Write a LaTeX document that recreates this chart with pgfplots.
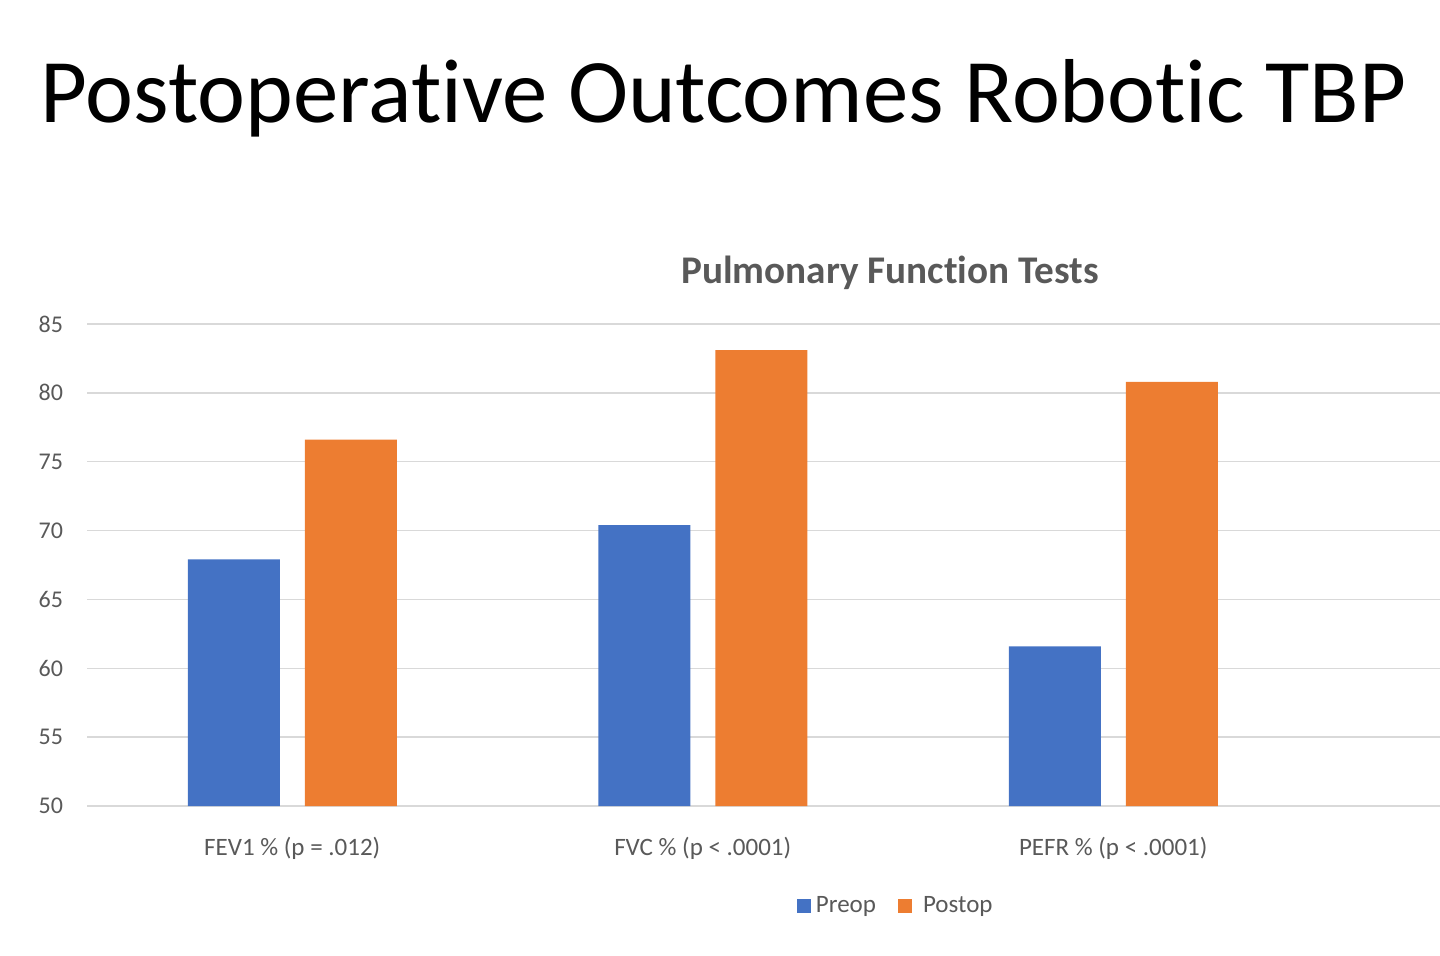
\documentclass[border=0pt]{standalone}
\usepackage{fontspec}
\setmainfont{Carlito}[Ligatures=NoCommon]
\usepackage{pgfplots}
\pgfplotsset{compat=1.18}
\definecolor{cblue}{HTML}{4472C4}
\definecolor{corange}{HTML}{ED7D31}
\definecolor{ctext}{HTML}{595959}
\definecolor{cgrid}{HTML}{D9D9D9}
\begin{document}
\begin{tikzpicture}
\path[use as bounding box] (0,0) rectangle (720pt,477.5pt);
\node[anchor=base, inner sep=0pt, font=\fontsize{45.4}{50}\selectfont] at (361.75pt,416pt) {Postoperative Outcomes Robotic TBP};
\node[anchor=base, inner sep=0pt, text=ctext, font=\fontsize{19.6}{24}\selectfont\bfseries] at (445pt,335.5pt) {Pulmonary Function Tests};
\begin{axis}[
  at={(43.5pt,74.5pt)}, anchor=south west,
  scale only axis, width=676.5pt, height=241pt,
  ybar=12.5pt, bar width=46pt,
  xmin=-0.5, xmax=2.796,
  ymin=50, ymax=85, ytick={50,55,...,85},
  xtick=data,
  xticklabels={FEV1 \% (p = .012), FVC \% (p < .0001), PEFR \% (p < .0001)},
  axis line style={draw=none},
  tick style={draw=none},
  ymajorgrids, grid style={cgrid, line width=0.75pt},
  tick label style={text=ctext},
  yticklabel style={xshift=-8.5pt, font=\fontsize{12}{14}\selectfont},
  xticklabel style={yshift=-8pt, font=\fontsize{12.5}{14}\selectfont},
  /pgf/number format/assume math mode=true,
  legend columns=2,
  legend style={draw=none, at={(0.5985,-0.208)}, anchor=center, font=\fontsize{12.5}{14}\selectfont, text=ctext,
    /tikz/every even column/.append style={column sep=9pt}},
  legend image code/.code={\fill[#1,draw=none] (0pt,-3.5pt) rectangle (7pt,3.5pt);},
]
\addplot[fill=cblue, draw=none] coordinates {(0,67.9) (1,70.4) (2,61.6)};
\addplot[fill=corange, draw=none] coordinates {(0,76.6) (1,83.1) (2,80.8)};
\legend{\hspace{0.5pt}Preop, \hspace{3.5pt}Postop}
\end{axis}
\end{tikzpicture}
\end{document}
